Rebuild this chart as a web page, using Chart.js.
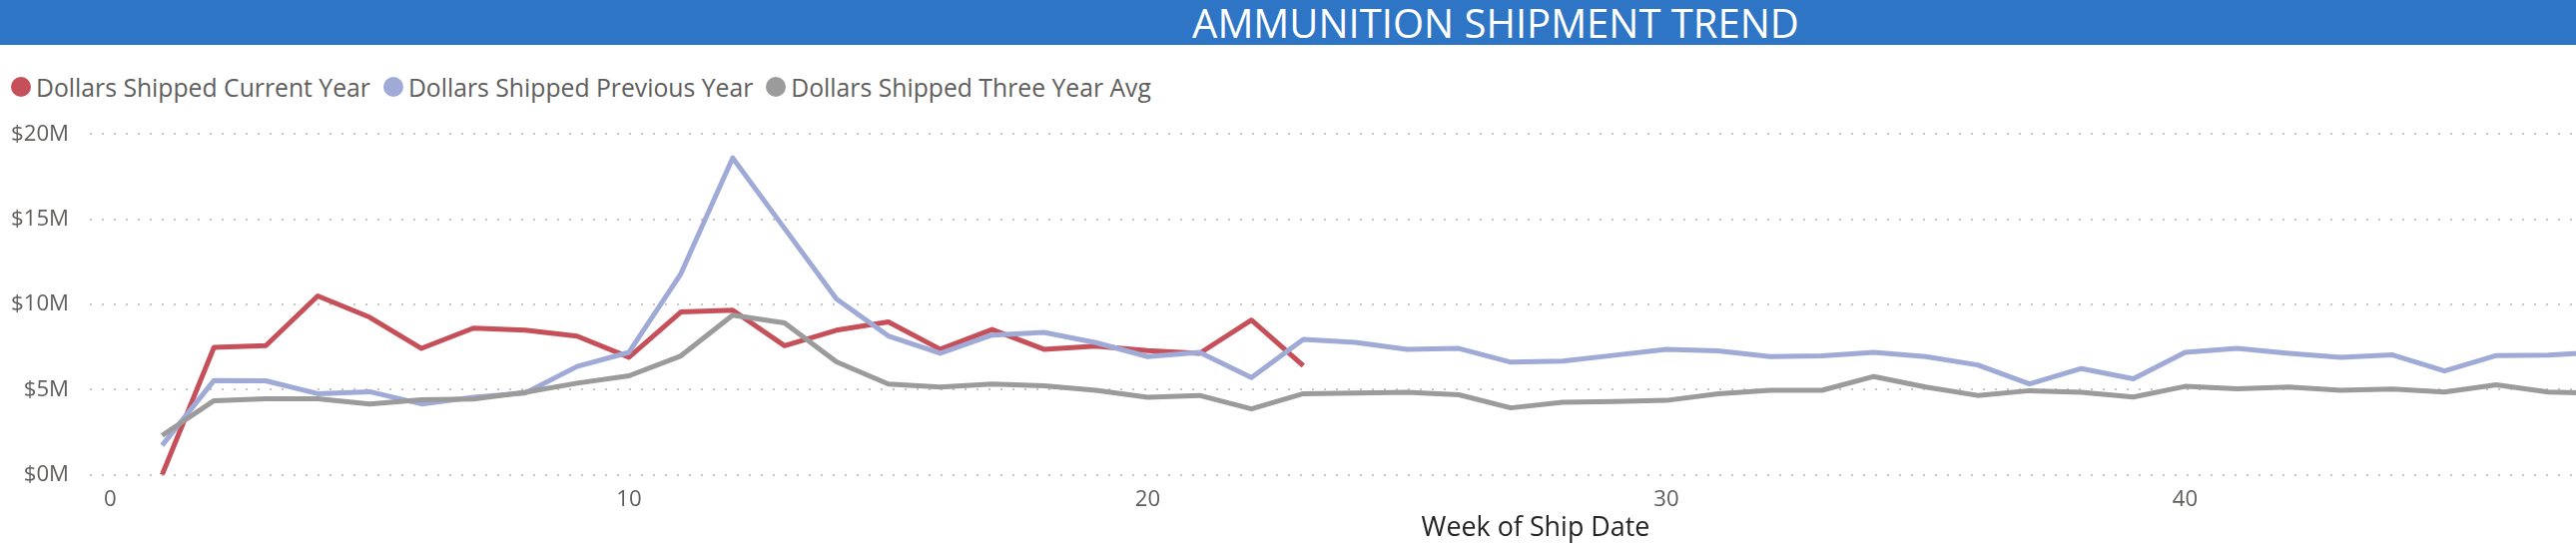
<!DOCTYPE html>
<html><head><meta charset="utf-8">
<script src="https://cdn.jsdelivr.net/npm/chart.js@4.4.1/dist/chart.umd.min.js"></script>
<style>
html,body{margin:0;padding:0;width:2580px;height:554px;overflow:hidden;background:#fff;font-family:"Open Sans",sans-serif;}
#wrap{position:absolute;left:0;top:0;width:2996px;height:554px;}
#titlebar{position:absolute;left:0;top:0;width:2996px;height:45px;background:#2E75C6;color:#fff;text-align:center;line-height:45px;white-space:nowrap;}
#legend{position:absolute;left:11px;top:70px;height:34px;display:flex;align-items:center;white-space:nowrap;color:#605E5C;}
.item{display:flex;align-items:center;margin-right:13px;}
.dot{width:20px;height:20px;border-radius:50%;margin-right:5px;flex:none;}
#chartbox{position:absolute;left:0;top:100px;width:2996px;height:454px;}
</style></head>
<body>
<div id="wrap">
  <div id="titlebar">AMMUNITION SHIPMENT TREND</div>
  <div id="legend"></div>
  <div id="chartbox"><canvas id="c"></canvas></div>
</div>
<script>
// ---- data ----
const weeks = [1,2,3,4,5,6,7,8,9,10,11,12,13,14,15,16,17,18,19,20,21,22,23,24,25,26,27,28,29,30,31,32,33,34,35,36,37,38,39,40,41,42,43,44,45,46,47,48];
const currentYear = [0, 7.48, 7.58, 10.5, 9.25, 7.42, 8.61, 8.49, 8.14, 6.9, 9.56, 9.66, 7.58, 8.49, 8.98, 7.37, 8.53, 7.37, 7.56, 7.29, 7.13, 9.08, 6.41];
const previousYear = [1.73, 5.54, 5.52, 4.76, 4.88, 4.16, 4.55, 4.8, 6.36, 7.19, 11.8, 18.6, 14.46, 10.32, 8.15, 7.13, 8.2, 8.36, 7.76, 6.94, 7.19, 5.71, 7.95, 7.77, 7.37, 7.42, 6.61, 6.67, 7.02, 7.37, 7.27, 6.94, 6.98, 7.19, 6.94, 6.45, 5.34, 6.24, 5.64, 7.19, 7.42, 7.13, 6.9, 7.04, 6.1, 7.0, 7.03, 7.2];
const threeYearAvg = [2.31, 4.35, 4.47, 4.47, 4.16, 4.41, 4.45, 4.84, 5.38, 5.81, 6.98, 9.37, 8.92, 6.63, 5.33, 5.15, 5.33, 5.23, 4.96, 4.55, 4.66, 3.87, 4.76, 4.8, 4.84, 4.7, 3.93, 4.26, 4.31, 4.37, 4.76, 4.96, 4.96, 5.77, 5.15, 4.66, 4.94, 4.84, 4.57, 5.19, 5.05, 5.15, 4.96, 5.03, 4.86, 5.29, 4.86, 4.78];
const seriesNames = ["Dollars Shipped Current Year", "Dollars Shipped Previous Year", "Dollars Shipped Three Year Avg"];
const yTicks = [0, 5, 10, 15, 20];
const xTicks = [0, 10, 20, 30, 40, 50];
const chartTitle = "AMMUNITION SHIPMENT TREND";
const xTitle = "Week of Ship Date";

// ---- styling ----
const colors = ["#C6505A", "#A0AAD6", "#9B9B9B"];
const FAMILY = '"Open Sans", sans-serif';
const mctx = document.createElement('canvas').getContext('2d');
function fitSize(text, weight, target){ mctx.font = weight + ' 100px ' + FAMILY; return 100 * target / mctx.measureText(text).width; }

const titleSize = fitSize(chartTitle, 400, 608);
document.getElementById('titlebar').style.fontSize = titleSize + 'px';
const legendSize = fitSize(seriesNames[0], 400, 335);
const tickSize = fitSize('$20M', 400, 58);
const axisTitleSize = fitSize(xTitle, 400, 229);

const legend = document.getElementById('legend');
seriesNames.forEach((n,i)=>{
  const it = document.createElement('div'); it.className='item';
  const d = document.createElement('div'); d.className='dot'; d.style.background = colors[i];
  const t = document.createElement('span'); t.textContent = n; t.style.fontSize = legendSize + 'px';
  it.appendChild(d); it.appendChild(t); legend.appendChild(it);
});

const pts = arr => arr.map((v,i)=>({x: weeks[i], y: v}));
const seriesData = [currentYear, previousYear, threeYearAvg];

new Chart(document.getElementById('c'), {
  type: 'line',
  data: {
    datasets: seriesNames.map((n,i)=>({
      label: n,
      data: pts(seriesData[i]),
      borderColor: colors[i],
      backgroundColor: colors[i],
      borderWidth: 5,
      borderJoinStyle: 'round',
      pointRadius: 0,
      pointHoverRadius: 0,
      tension: 0,
      fill: false,
      order: 2 - i
    }))
  },
  options: {
    responsive: true,
    maintainAspectRatio: false,
    animation: false,
    events: [],
    layout: { padding: { top: 32.7, right: 10, left: 0, bottom: 0 } },
    plugins: { legend: { display: false }, tooltip: { enabled: false }, title: { display: false } },
    scales: {
      x: {
        type: 'linear',
        min: -0.393,
        max: 55.35,
        afterFit: s => { s.height = 78.3; },
        afterBuildTicks: s => { s.ticks = xTicks.map(v=>({value:v})); },
        grid: { display: false, drawTicks: false },
        border: { display: false },
        ticks: { color: '#605E5C', font: { family: FAMILY, size: tickSize }, padding: 12, maxRotation: 0, autoSkip: false },
        title: { display: true, text: xTitle, color: '#252423', font: { family: FAMILY, size: axisTitleSize }, padding: { top: 0, bottom: 9 } }
      },
      y: {
        min: 0, max: 20,
        afterFit: s => { s.width = 90; },
        afterBuildTicks: s => { s.ticks = yTicks.map(v=>({value:v})); },
        grid: { color: '#C8C6C4', lineWidth: 2, drawTicks: false, borderDash: [2,10] },
        border: { display: false, dash: [2,10] },
        ticks: { color: '#605E5C', font: { family: FAMILY, size: tickSize }, padding: 21, callback: v => '$' + v + 'M' }
      }
    }
  }
});
</script>
</body></html>
